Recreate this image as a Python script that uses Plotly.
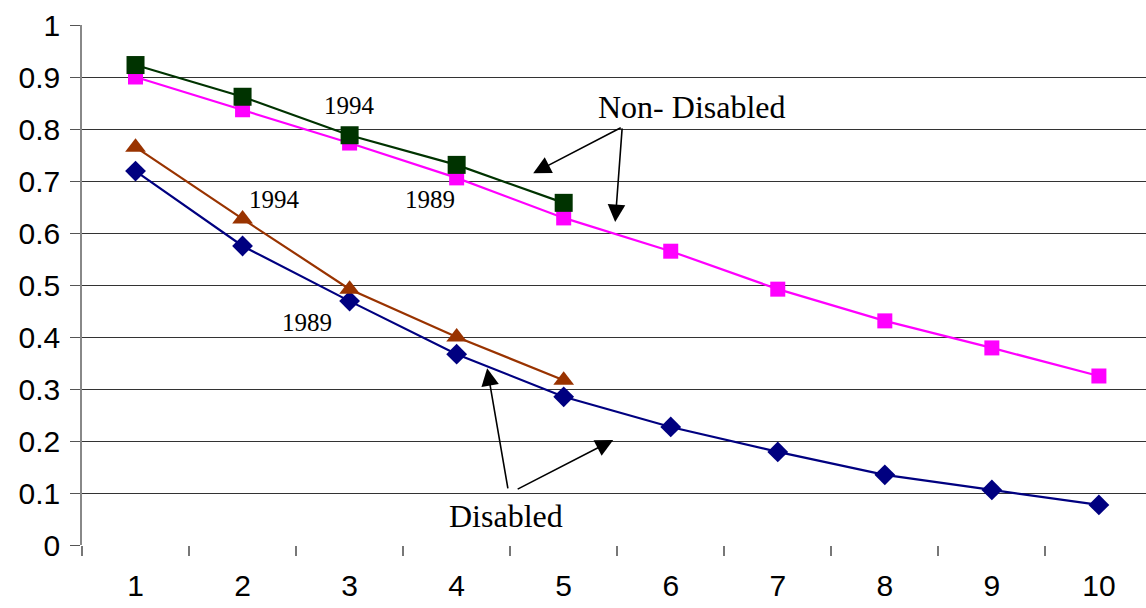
import plotly.graph_objects as go

periods = [1, 2, 3, 4, 5, 6, 7, 8, 9, 10]
y_ticks = [0, 0.1, 0.2, 0.3, 0.4, 0.5, 0.6, 0.7, 0.8, 0.9, 1]
y_tick_labels = ["0", "0.1", "0.2", "0.3", "0.4", "0.5", "0.6", "0.7", "0.8", "0.9", "1"]

disabled_1989 = [0.719, 0.575, 0.469, 0.367, 0.285, 0.227, 0.179, 0.135, 0.106, 0.077]
disabled_1994 = [0.765, 0.627, 0.492, 0.400, 0.317]
nondisabled_1989 = [0.900, 0.837, 0.773, 0.706, 0.629, 0.565, 0.492, 0.431, 0.379, 0.325]
nondisabled_1994 = [0.923, 0.862, 0.788, 0.731, 0.658]

fig = go.Figure()

fig.add_trace(go.Scatter(x=periods, y=nondisabled_1989, mode="lines+markers",
                         line=dict(color="#FF00FF", width=2.2),
                         marker=dict(symbol="square", size=15, color="#FF00FF")))
fig.add_trace(go.Scatter(x=periods[:5], y=nondisabled_1994, mode="lines+markers",
                         line=dict(color="#003300", width=2.2),
                         marker=dict(symbol="square", size=18, color="#003300")))
fig.add_trace(go.Scatter(x=periods, y=disabled_1989, mode="lines+markers",
                         line=dict(color="#000080", width=2.2),
                         marker=dict(symbol="diamond", size=16, color="#000080")))
fig.add_trace(go.Scatter(x=periods[:5], y=disabled_1994, mode="lines+markers",
                         line=dict(color="#993300", width=2.2),
                         marker=dict(symbol="triangle-up", size=18, color="#993300")))

tfont = dict(family="Liberation Serif, Times New Roman, serif", color="black")
labels = [
    (3.0, 0.845, "1994", 25),
    (2.3, 0.665, "1994", 25),
    (3.75, 0.665, "1989", 25),
    (2.6, 0.428, "1989", 25),
    (6.2, 0.842, "Non- Disabled", 32),
    (4.46, 0.056, "Disabled", 32),
]
for x, y, t, s in labels:
    fig.add_annotation(x=x, y=y, text=t, showarrow=False, font=dict(size=s, **tfont))

arrows = [
    ((4.715, 0.715), (5.547, 0.804)),
    ((5.481, 0.621), (5.547, 0.804)),
    ((4.285, 0.340), (4.481, 0.106)),
    ((5.463, 0.202), (4.556, 0.106)),
]
for (tx, ty), (sx, sy) in arrows:
    fig.add_annotation(x=tx, y=ty, ax=sx, ay=sy, axref="x", ayref="y", text="",
                       showarrow=True, arrowhead=2, arrowsize=2.2, arrowwidth=1.6,
                       arrowcolor="black")

fig.update_layout(
    width=1146, height=608,
    margin=dict(l=82, r=0, t=25, b=63, autoexpand=False),
    paper_bgcolor="white", plot_bgcolor="white",
    showlegend=False,
    font=dict(family="Liberation Sans, Arial, sans-serif", color="black"),
)
fig.update_xaxes(
    range=[0.5, 10.44], tickvals=periods, ticktext=[str(p) for p in periods],
    ticks="", tickfont=dict(size=30), showgrid=False, zeroline=False,
    showline=False, ticklabelstandoff=20,
    minor=dict(tick0=0.5, dtick=1, ticks="outside", ticklen=10, tickcolor="#777", tickwidth=1.5, showgrid=False),
)
fig.update_yaxes(
    range=[0, 1], tickvals=y_ticks, ticktext=y_tick_labels,
    ticks="outside", ticklen=10, tickcolor="#555", tickwidth=1,
    tickfont=dict(size=30), showgrid=True, gridcolor="#333", gridwidth=1,
    zeroline=False, showline=True, linecolor="#888", linewidth=1.5,
    ticklabelstandoff=4,
)

fig.write_html("out.html", config={"displayModeBar": False},
               post_script="document.body.style.margin='0';document.body.style.padding='0';")
